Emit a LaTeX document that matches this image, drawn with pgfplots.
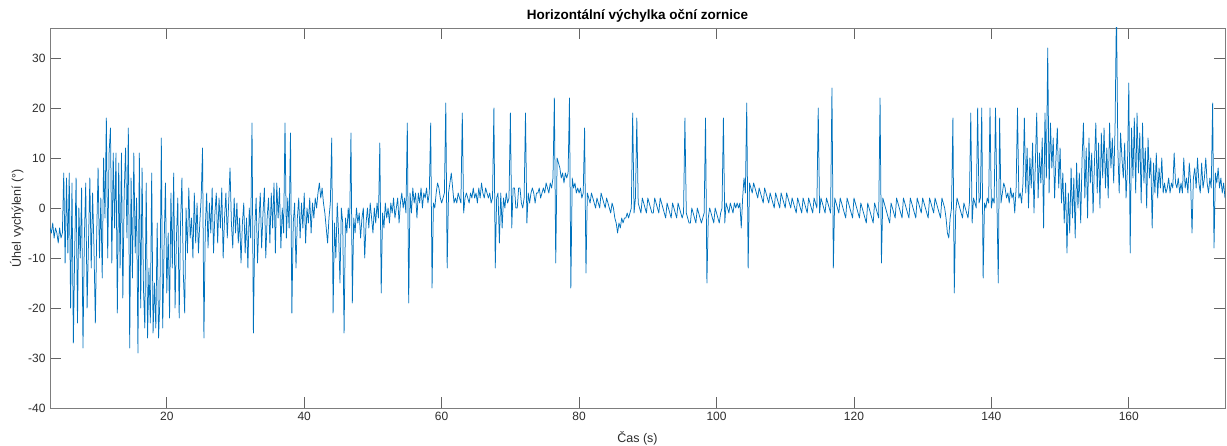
\documentclass[border=0pt]{standalone}
\usepackage{fontspec}
\setmainfont{Liberation Sans}
\usepackage{pgfplots}
\pgfplotsset{compat=1.18}
\usepackage{pgfplotstable}
\definecolor{mblue}{RGB}{0,114,189}
\definecolor{axgray}{RGB}{125,125,125}
\definecolor{txtgray}{RGB}{45,45,45}

% horizontal pupil deflection, sampled every 0.2 s from t = 3 s
\pgfplotstableread[row sep=\\, header=false]{
-4\\ -5\\ -3\\ -6\\ -4\\ -5\\ -7\\ -4\\ -6\\ -5\\
7\\ -11\\ 6\\ -9\\ 7\\ -20\\ 5\\ -27\\ -8\\ 6\\
-23\\ 0\\ -10\\ 4\\ -28\\ -6\\ 5\\ -20\\ -7\\ 6\\
-12\\ 3\\ -8\\ -23\\ -5\\ 8\\ -10\\ 2\\ -14\\ 10\\
-2\\ 18\\ -10\\ 11\\ 16\\ -11\\ 11\\ -4\\ 11\\ -21\\
9\\ -12\\ 11\\ -18\\ 3\\ 12\\ -6\\ 16\\ -28\\ 6\\
-14\\ 11\\ -9\\ 2\\ -29\\ 11\\ -20\\ 8\\ -16\\ -24\\
5\\ -26\\ -12\\ -23\\ 7\\ -25\\ -15\\ -24\\ -3\\ -26\\
-18\\ 14\\ -24\\ -8\\ 5\\ -17\\ -5\\ -22\\ 3\\ -12\\
7\\ -20\\ -6\\ 2\\ -22\\ -3\\ 6\\ -13\\ -21\\ 0\\
-9\\ 4\\ -6\\ -2\\ -10\\ 3\\ -7\\ 1\\ -9\\ -3\\
2\\ 12\\ -26\\ -4\\ 3\\ -8\\ 1\\ -5\\ 4\\ -9\\
-1\\ 3\\ -7\\ 2\\ -4\\ 4\\ -10\\ -2\\ 3\\ -6\\
1\\ 8\\ -3\\ -8\\ 2\\ -5\\ 1\\ -7\\ -2\\ -11\\
-3\\ 1\\ -9\\ -2\\ -12\\ 0\\ -6\\ 17\\ -25\\ -4\\
2\\ -11\\ -3\\ 3\\ -8\\ -1\\ 4\\ -10\\ -2\\ 2\\
-7\\ 3\\ -4\\ 5\\ -9\\ 5\\ -2\\ 4\\ -8\\ 0\\
-5\\ 17\\ -6\\ 2\\ -4\\ 15\\ -21\\ -3\\ 1\\ -12\\
-2\\ 2\\ -6\\ 1\\ -4\\ 3\\ -7\\ 0\\ -3\\ 2\\
-5\\ 1\\ -2\\ 2\\ 0\\ 3\\ 5\\ 2\\ 4\\ 1\\
-1\\ -4\\ -7\\ -2\\ 1\\ 14\\ -21\\ -3\\ -10\\ 1\\
-5\\ -15\\ 0\\ -3\\ -25\\ -2\\ -5\\ 0\\ -4\\ 15\\
-19\\ -2\\ -5\\ 0\\ -3\\ -1\\ -6\\ -2\\ 0\\ -10\\
-3\\ 0\\ -4\\ 1\\ -2\\ -5\\ 0\\ -3\\ 1\\ -2\\
13\\ -17\\ -1\\ -4\\ 1\\ -2\\ 0\\ -3\\ 1\\ -1\\
2\\ -2\\ 0\\ 2\\ -3\\ 1\\ 3\\ 0\\ 2\\ -1\\
17\\ -19\\ 3\\ -1\\ 4\\ 1\\ 3\\ -2\\ 3\\ 1\\
4\\ 0\\ 3\\ 2\\ 4\\ 1\\ 3\\ 17\\ -16\\ 1\\
0\\ 3\\ 5\\ 4\\ 2\\ 1\\ 2\\ 3\\ 21\\ -12\\
3\\ 5\\ 7\\ 4\\ 1\\ 2\\ 1\\ 3\\ 2\\ 1\\
19\\ -1\\ 2\\ 3\\ 2\\ 1\\ 3\\ 2\\ 4\\ 2\\
3\\ 1\\ 4\\ 2\\ 5\\ 3\\ 2\\ 4\\ 3\\ 2\\
3\\ 1\\ 2\\ 20\\ -12\\ 2\\ 3\\ -7\\ 3\\ -4\\
2\\ 0\\ 3\\ 1\\ 2\\ 19\\ -4\\ 4\\ 4\\ 0\\
0\\ 4\\ 4\\ 1\\ 0\\ 2\\ 19\\ -3\\ 3\\ 1\\
3\\ 4\\ 3\\ 1\\ 3\\ 3\\ 4\\ 2\\ 3\\ 4\\
3\\ 5\\ 4\\ 3\\ 5\\ 4\\ 6\\ 22\\ -11\\ 10\\
9\\ 8\\ 6\\ 7\\ 5\\ 7\\ 6\\ 7\\ 22\\ -16\\
6\\ 4\\ 5\\ 3\\ 4\\ 3\\ 4\\ 2\\ 3\\ 16\\
-13\\ 3\\ 2\\ 1\\ 3\\ 2\\ 1\\ 0\\ 2\\ 1\\
0\\ 3\\ 2\\ 1\\ 0\\ 2\\ 1\\ 0\\ -1\\ 1\\
0\\ -2\\ -3\\ -5\\ -3\\ -4\\ -2\\ -3\\ -2\\ -2\\
-1\\ -2\\ -1\\ 0\\ 19\\ -1\\ 2\\ 18\\ 1\\ 0\\
-1\\ 2\\ 1\\ 0\\ -1\\ 2\\ 1\\ 0\\ -1\\ -1\\
2\\ 1\\ 0\\ -1\\ 2\\ 1\\ 0\\ -1\\ -2\\ 1\\
0\\ -1\\ -2\\ 1\\ 0\\ -1\\ -2\\ 1\\ 0\\ -1\\
-2\\ -1\\ 18\\ -1\\ -2\\ -3\\ -3\\ 0\\ -1\\ -2\\
-3\\ 0\\ -1\\ -2\\ -3\\ -2\\ -1\\ 18\\ -15\\ -2\\
0\\ -1\\ -2\\ -3\\ 0\\ -1\\ -2\\ -3\\ -1\\ 0\\
18\\ -3\\ 1\\ 0\\ -1\\ 1\\ 0\\ -1\\ 1\\ 0\\
1\\ 0\\ 1\\ -4\\ 2\\ 6\\ 3\\ 21\\ -12\\ 5\\
4\\ 3\\ 5\\ 4\\ 3\\ 2\\ 4\\ 3\\ 2\\ 1\\
4\\ 3\\ 2\\ 1\\ 3\\ 2\\ 1\\ 0\\ 3\\ 2\\
1\\ 0\\ 3\\ 2\\ 1\\ 0\\ 3\\ 2\\ 1\\ 0\\
2\\ 1\\ 0\\ -1\\ 2\\ 1\\ 0\\ -1\\ 2\\ 1\\
0\\ -1\\ 2\\ 1\\ 0\\ -1\\ 2\\ 1\\ 0\\ 20\\
-1\\ 2\\ 1\\ 0\\ -1\\ 2\\ 1\\ 0\\ -1\\ 24\\
-12\\ 2\\ 1\\ 0\\ -1\\ 2\\ 1\\ 0\\ -1\\ -2\\
2\\ 1\\ 0\\ -1\\ -2\\ 2\\ 1\\ 0\\ -1\\ -2\\
1\\ 0\\ -1\\ -2\\ -3\\ 1\\ 0\\ -1\\ -2\\ -3\\
1\\ 0\\ -1\\ -2\\ 22\\ -11\\ 2\\ 1\\ 0\\ -1\\
-2\\ -3\\ 1\\ 0\\ -1\\ -2\\ 2\\ 1\\ 0\\ -1\\
-2\\ 2\\ 1\\ 0\\ -1\\ -2\\ 2\\ 1\\ 0\\ -1\\
-2\\ 2\\ 1\\ 0\\ -1\\ 2\\ 1\\ 0\\ -1\\ -2\\
2\\ 1\\ 0\\ -1\\ 2\\ 1\\ 0\\ -1\\ -2\\ 2\\
1\\ 0\\ -2\\ -5\\ -6\\ -2\\ 0\\ 18\\ -17\\ -1\\
2\\ 1\\ 0\\ -1\\ -2\\ 1\\ 0\\ -1\\ -2\\ 1\\
19\\ -3\\ 2\\ 1\\ 0\\ 20\\ 1\\ 2\\ 20\\ -14\\
1\\ 0\\ 2\\ 1\\ 20\\ 0\\ 2\\ 1\\ 20\\ 2\\
-15\\ 18\\ 1\\ 3\\ 5\\ 4\\ 2\\ 3\\ 1\\ 4\\
2\\ 3\\ -1\\ 4\\ 20\\ 2\\ 3\\ 1\\ 5\\ 18\\
3\\ 12\\ 0\\ 10\\ 4\\ 13\\ -1\\ 9\\ 19\\ 2\\
11\\ 5\\ 14\\ -4\\ 19\\ 6\\ 32\\ 3\\ 17\\ 8\\
14\\ 2\\ 10\\ 16\\ 4\\ 12\\ 1\\ 7\\ -3\\ 5\\
-9\\ 3\\ -5\\ 8\\ -2\\ 6\\ -6\\ 9\\ 0\\ 7\\
-3\\ 10\\ 17\\ 2\\ 12\\ -2\\ 14\\ 5\\ 11\\ -1\\
9\\ 17\\ 3\\ 13\\ 0\\ 15\\ 6\\ 16\\ 4\\ 12\\
2\\ 17\\ 8\\ 14\\ 5\\ 16\\ 40\\ 12\\ 3\\ 15\\
10\\ 6\\ 13\\ 2\\ 8\\ 25\\ -9\\ 16\\ 6\\ 18\\
3\\ 19\\ 7\\ 15\\ 1\\ 17\\ 5\\ 12\\ 0\\ 14\\
6\\ 10\\ -4\\ 9\\ 3\\ 11\\ 2\\ 8\\ 4\\ 10\\
3\\ 5\\ 3\\ 4\\ 6\\ 3\\ 5\\ 4\\ 11\\ 5\\
4\\ 6\\ 3\\ 5\\ 3\\ 10\\ 4\\ 6\\ 3\\ 9\\
5\\ -5\\ 6\\ 8\\ 4\\ 10\\ 5\\ 3\\ 9\\ 4\\
6\\ 10\\ 5\\ 3\\ 6\\ 4\\ 21\\ -8\\ 7\\ 5\\
8\\ 4\\ 6\\ 3\\ 5\\ 2\\
}\eyedata

\begin{document}
\begin{tikzpicture}
\begin{axis}[
  scale only axis,
  width=1175pt, height=380pt,
  xmin=3, xmax=174, ymin=-40, ymax=36,
  xtick={20,40,...,160},
  ytick={-40,-30,...,30},
  tick align=inside,
  major tick length=11pt,
  axis line style={axgray, line width=0.8pt},
  tick style={axgray!80!black, line width=0.8pt},
  /pgf/number format/assume math mode=true,
  ticklabel style={font=\fontsize{12}{14}\selectfont, text=txtgray},
  xticklabel style={yshift=-1pt},
  yticklabel style={xshift=-1pt},
  title={Horizontální výchylka oční zornice},
  title style={font=\fontsize{13.5}{15}\selectfont\bfseries, text=black,
    at={(axis description cs:0.5,1)}, anchor=base, yshift=2pt},
  xlabel={Čas (s)},
  xlabel style={font=\fontsize{12.5}{14}\selectfont, text=txtgray,
    at={(axis description cs:0.5,0)}, anchor=base, yshift=-34pt},
  ylabel={Úhel vychýlení (°)},
  ylabel style={font=\fontsize{12.5}{14}\selectfont, text=txtgray,
    at={(axis description cs:0,0.5)}, anchor=base, yshift=29pt},
]
\addplot[mblue, line width=0.75pt, line join=round]
  table[x expr={3+0.2*\coordindex}, y index=0] {\eyedata};
\end{axis}
\pgfresetboundingbox
\path ([shift={(-50pt,-37pt)}]current axis.south west)
  rectangle ([shift={(2pt,28pt)}]current axis.north east);
\end{tikzpicture}
\end{document}
